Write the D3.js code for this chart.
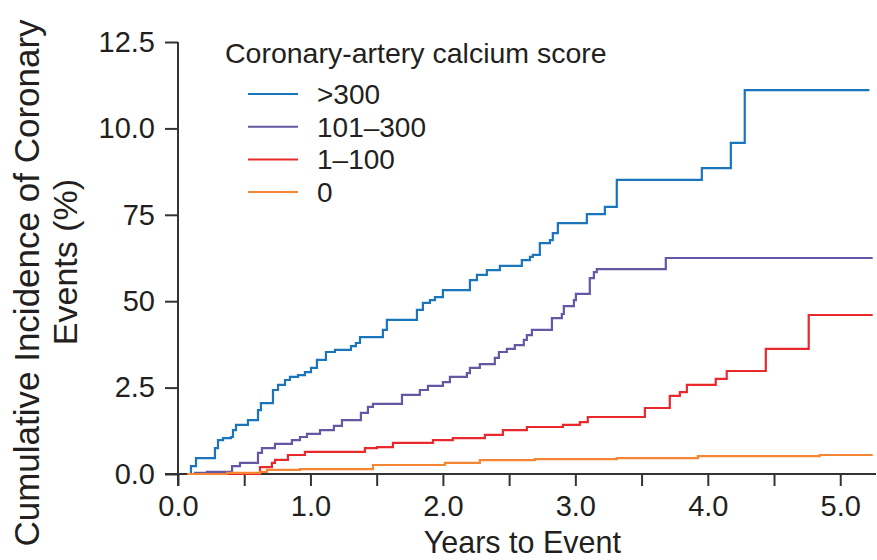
<!DOCTYPE html>
<html>
<head>
<meta charset="utf-8">
<script src="https://cdn.jsdelivr.net/npm/d3@7"></script>
<style>
  body { margin: 0; background: #fff; }
  text { font-family: "Liberation Sans", Arial, Helvetica, sans-serif; fill: #231f20; }
</style>
</head>
<body>
<svg id="chart" width="877" height="560"></svg>
<script>
// tick labels exactly as printed in the figure
var yTicks = [0, 2.5, 5, 7.5, 10, 12.5];
var yTickLabels = ["0.0", "2.5", "50", "75", "10.0", "12.5"];
var xTicks = [0, 1, 2, 3, 4, 5];
var xTickLabels = ["0.0", "1.0", "2.0", "3.0", "4.0", "5.0"];
var xMinorTicks = [0.5, 1.5, 2.5, 3.5, 4.5];

var groups = [">300", "101\u2013300", "1\u2013100", "0"];
var colors = ["#1b75bb", "#6656a3", "#e8292e", "#f58634"];

// step points: [years, cumulative incidence %]
var over300 = [[0.07,0],[0.098,0.23],[0.136,0.46],[0.279,0.75],[0.302,0.98],[0.34,1.04],[0.40,1.07],
    [0.415,1.27],[0.438,1.42],[0.528,1.56],[0.604,1.85],[0.626,2.05],[0.717,2.43],[0.755,2.58],
    [0.808,2.72],[0.845,2.81],[0.906,2.86],[0.958,2.95],[1.004,3.07],[1.049,3.30],[1.117,3.53],
    [1.185,3.59],[1.306,3.70],[1.343,3.79],[1.374,3.96],[1.547,4.17],[1.577,4.46],[1.804,4.75],
    [1.849,4.95],[1.902,5.03],[1.94,5.12],[2.0,5.32],[2.204,5.61],[2.257,5.76],[2.332,5.90],
    [2.43,6.02],[2.596,6.19],[2.657,6.28],[2.679,6.34],[2.732,6.68],[2.808,6.77],[2.83,6.97],
    [2.868,7.26],[3.087,7.52],[3.223,7.73],[3.313,8.51],[3.955,8.85],[4.174,9.58],[4.279,11.11],
    [5.22,11.11]];
var from101 = [[0.07,0],[0.128,0.03],[0.219,0.06],[0.408,0.23],[0.468,0.32],[0.604,0.61],[0.634,0.75],
    [0.732,0.87],[0.86,0.98],[0.921,1.07],[0.974,1.16],[1.072,1.27],[1.177,1.39],[1.238,1.56],
    [1.381,1.77],[1.434,1.94],[1.472,2.03],[1.691,2.29],[1.826,2.43],[1.887,2.55],[2.0,2.66],
    [2.053,2.81],[2.181,2.92],[2.204,3.07],[2.279,3.18],[2.392,3.36],[2.423,3.53],[2.483,3.62],
    [2.543,3.73],[2.611,3.88],[2.634,4.02],[2.672,4.17],[2.823,4.51],[2.898,4.63],[2.913,4.86],
    [2.989,5.03],[3.004,5.21],[3.109,5.67],[3.14,5.84],[3.162,5.93],[3.683,6.25],[5.245,6.25]];
var from1 = [[0.07,0],[0.619,0.2],[0.709,0.32],[0.732,0.41],[0.83,0.55],[0.958,0.64],[1.411,0.75],
    [1.502,0.78],[1.623,0.9],[1.925,0.98],[2.075,1.04],[2.317,1.13],[2.453,1.27],[2.634,1.36],
    [2.906,1.42],[3.034,1.5],[3.094,1.65],[3.525,1.91],[3.713,2.26],[3.789,2.37],[3.842,2.58],
    [4.06,2.75],[4.143,2.98],[4.438,3.62],[4.762,4.6],[5.245,4.6]];
var zero = [[0.07,0],[0.37,0.03],[0.619,0.06],[0.672,0.12],[0.921,0.14],[1.472,0.26],[2.015,0.32],
    [2.279,0.4],[2.694,0.43],[3.313,0.46],[3.925,0.52],[4.845,0.55],[5.245,0.55]];

var series = [over300, from101, from1, zero];

var svg = d3.select("#chart");

var x = d3.scaleLinear().domain([0, 5.27]).range([178, 876]);
var y = d3.scaleLinear().domain([0, 12.5]).range([474, 42]);

var axisColor = "#333";

// y axis
var yAxis = svg.append("g")
    .attr("transform", "translate(" + x(0) + ",0)")
    .call(d3.axisLeft(y).tickValues(yTicks).tickSize(13).tickSizeOuter(0).tickPadding(10)
        .tickFormat(function(d, i) { return yTickLabels[i]; }));
yAxis.select(".domain").remove();
yAxis.selectAll("line").attr("stroke", axisColor).attr("stroke-width", 2);
yAxis.selectAll("text").style("font-size", "29px").attr("fill", "#231f20");

// x axis: labelled ticks plus unlabelled half-year ticks
var xAxis = svg.append("g")
    .attr("transform", "translate(0," + y(0) + ")")
    .call(d3.axisBottom(x).tickValues(xTicks.concat(xMinorTicks)).tickSize(12).tickSizeOuter(0).tickPadding(9)
        .tickFormat(function(d) { var i = xTicks.indexOf(d); return i < 0 ? "" : xTickLabels[i]; }));
xAxis.select(".domain").remove();
xAxis.selectAll("line").attr("stroke", axisColor).attr("stroke-width", 2);
xAxis.selectAll("text").style("font-size", "29px").attr("fill", "#231f20");

svg.append("line")
    .attr("x1", x(0)).attr("x2", x(0))
    .attr("y1", y(12.5)).attr("y2", y(0) + 12)
    .attr("stroke", axisColor).attr("stroke-width", 2);
svg.append("line")
    .attr("x1", x(0) - 13).attr("x2", x(5.27))
    .attr("y1", y(0)).attr("y2", y(0))
    .attr("stroke", axisColor).attr("stroke-width", 2);

// curves
var line = d3.line()
    .x(function(d) { return x(d[0]); })
    .y(function(d) { return y(d[1]); })
    .curve(d3.curveStepAfter);

svg.append("g").selectAll("path")
    .data(series)
  .enter().append("path")
    .attr("d", line)
    .attr("fill", "none")
    .attr("stroke", function(d, i) { return colors[i]; })
    .attr("stroke-width", 2.2)
    .attr("stroke-linejoin", "miter");

// legend
var legend = svg.append("g");
legend.append("text")
    .attr("x", 225).attr("y", 63)
    .style("font-size", "28.5px")
    .text("Coronary-artery calcium score");

var item = legend.selectAll("g.item")
    .data(groups)
  .enter().append("g")
    .attr("class", "item")
    .attr("transform", function(d, i) { return "translate(0," + (94 + i * 32.7) + ")"; });
item.append("line")
    .attr("x1", 248).attr("x2", 298)
    .attr("stroke", function(d, i) { return colors[i]; })
    .attr("stroke-width", 2);
item.append("text")
    .attr("x", 317).attr("dy", "0.35em")
    .style("font-size", "28px")
    .text(function(d) { return d; });

// axis titles
svg.append("text")
    .attr("x", x(2.6)).attr("y", 553)
    .attr("text-anchor", "middle")
    .style("font-size", "30.5px")
    .text("Years to Event");

svg.append("text")
    .attr("transform", "translate(39,283) rotate(-90)")
    .attr("text-anchor", "middle")
    .style("font-size", "35px")
    .text("Cumulative Incidence of Coronary");
svg.append("text")
    .attr("transform", "translate(77,262) rotate(-90)")
    .attr("text-anchor", "middle")
    .style("font-size", "34px")
    .text("Events (%)");
</script>
</body>
</html>
